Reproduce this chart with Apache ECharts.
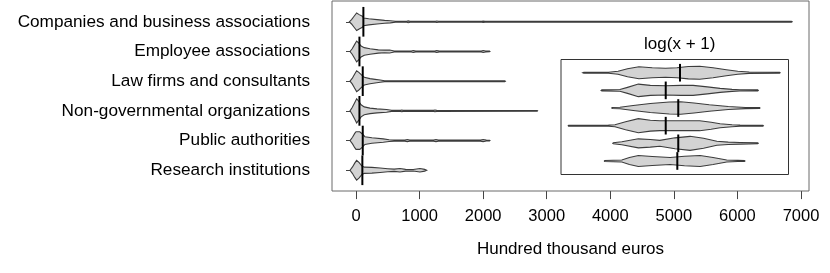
<!DOCTYPE html>
<html>
<head>
<meta charset="utf-8">
<script src="https://cdn.jsdelivr.net/npm/echarts@6/dist/echarts.min.js"></script>
<style>
html,body{margin:0;padding:0;background:#fff;}
#chart{width:830px;height:273px;}
</style>
</head>
<body>
<div id="chart"></div>
<script>
// ---------------- DATA ----------------
var categories = [
  'Companies and business associations',
  'Employee associations',
  'Law firms and consultants',
  'Non-governmental organizations',
  'Public authorities',
  'Research institutions'
];
var xTicks = [0, 1000, 2000, 3000, 4000, 5000, 6000, 7000];

// Bean outlines, main panel: [value (hundred thousand euros), relative half-width]
var beanCompanies = [[-105,0],[-70,2],[-30,5],[10,8],[50,6.5],[100,5],[120,3.5],[200,2.8],[330,2],[450,1.3],[540,1],[620,0.45],[800,0.45],[820,0.8],[850,0.4],[1250,0.4],[1270,0.7],[1300,0.4],[1980,0.4],[2000,0.6],[2030,0.35],[6850,0.35],[6860,0]];
var beanEmployee  = [[-94,0],[-60,2.5],[-25,6],[10,9.5],[45,7.5],[80,5],[130,3.5],[220,2.5],[350,1.5],[450,1.2],[530,1.4],[600,0.5],[870,0.5],[900,0.9],[940,0.4],[1240,0.4],[1270,0.9],[1310,0.4],[1970,0.4],[2000,0.9],[2040,0.45],[2100,0.3],[2107,0]];
var beanLaw       = [[-94,0],[-60,2.5],[-25,6],[10,9.5],[45,8],[90,5.5],[130,3.5],[220,2.3],[300,1.6],[380,1],[450,0.45],[2340,0.4],[2350,0]];
var beanNGO       = [[-94,0],[-60,3],[-25,7],[10,11],[45,8.5],[80,5.5],[130,3.6],[220,2.5],[330,1.8],[480,1.2],[560,0.5],[700,0.45],[720,0.8],[740,0.45],[1220,0.45],[1242,0.8],[1270,0.45],[2850,0.4],[2857,0]];
var beanPublic    = [[-94,0],[-55,3],[-20,6.5],[0,8],[60,8],[100,6],[140,3.5],[250,2.5],[430,1.5],[520,0.8],[600,0.5],[770,0.5],[807,1],[845,0.5],[1220,0.5],[1258,1],[1295,0.5],[1960,0.5],[2000,1],[2050,0.45],[2100,0.3],[2107,0]];
var beanResearch  = [[-94,0],[-55,3],[-20,6.5],[10,9],[50,7],[90,4],[130,2.8],[250,2.6],[380,2],[500,1.4],[600,1],[692,1.6],[780,0.8],[900,0.7],[1006,1.6],[1080,0.8],[1111,0]];
var mainBeans = [beanCompanies, beanEmployee, beanLaw, beanNGO, beanPublic, beanResearch];
var mainBeanLine = [116, 54, 106, 54, 106, 100];

// Bean outlines, inset panel: [log(x + 1), relative half-width]
var logCompanies = [[-0.36,0],[-0.3,0.5],[1.0,0.5],[1.5,1.5],[2.0,4],[2.6,6],[3.3,5],[4.0,4.5],[4.6,5],[5.2,6.2],[5.8,6.5],[6.5,5],[7.2,3],[7.8,1.5],[8.4,0.7],[10.0,0.5],[10.03,0]];
var logEmployee  = [[0.61,0],[0.65,0.5],[1.6,0.8],[2.0,3],[2.57,6.3],[3.2,5],[4.0,4.6],[4.8,5],[5.45,5],[6.2,3.5],[6.87,2],[7.5,1],[7.9,0.6],[8.85,0.5],[8.88,0]];
var logLaw       = [[1.17,0],[1.2,0.5],[1.6,0.8],[2.3,2.5],[3.2,4.5],[4.2,6],[4.8,6.3],[5.5,5],[6.3,3.2],[7.3,1.5],[8.2,0.6],[8.95,0.5],[8.97,0]];
var logNGO       = [[-1.12,0],[-1.1,0.5],[1.0,0.6],[1.34,1],[1.9,4],[2.57,7],[3.2,5.5],[3.7,5],[4.5,5],[5.8,5],[6.4,3.5],[6.87,2],[7.5,1],[7.92,0.6],[9.12,0.5],[9.15,0]];
var logPublic    = [[1.22,0],[1.25,0.5],[1.7,1.5],[2.57,4.5],[3.2,3.8],[3.7,3],[4.5,5.5],[5.29,7],[6.0,5],[6.7,2],[7.3,1.2],[7.92,0.8],[8.85,0.5],[8.88,0]];
var logResearch  = [[0.78,0],[0.8,0.5],[1.7,1],[2.1,3.5],[2.57,5.5],[3.3,4.5],[4.24,3.5],[5.0,4.8],[5.82,5.5],[6.5,3.5],[7.22,1],[7.8,0.6],[8.15,0.5],[8.18,0]];
var logBeans = [logCompanies, logEmployee, logLaw, logNGO, logPublic, logResearch];
var logBeanLine = [4.76, 4.01, 4.67, 4.01, 4.67, 4.62];

var xAxisTitle = 'Hundred thousand euros';
var insetTitle = 'log(x + 1)';

// ---------------- STYLE ----------------
var FONT = "'Liberation Sans', Arial, Helvetica, sans-serif";
var FILL = '#d3d3d3';
var OUTLINE = '#3c3c3c';

function beanSeries(beans, xi, yi, widthScale) {
  return {
    type: 'custom', xAxisIndex: xi, yAxisIndex: yi, silent: true, clip: false, z: 3,
    encode: { x: 0, y: 1 },
    data: beans.map(function (b, i) { return [b[0][0], i]; }),
    renderItem: function (params, api) {
      var idx = params.dataIndex;
      var prof = beans[idx];
      var band = api.size([0, 1])[1];
      var top = [], bot = [];
      prof.forEach(function (p) {
        var c = api.coord([p[0], idx]);
        var h = p[1] * widthScale * band;
        top.push([c[0], c[1] - h]);
        bot.push([c[0], c[1] + h]);
      });
      return {
        type: 'polygon',
        shape: { points: top.concat(bot.reverse()) },
        style: { fill: FILL, stroke: OUTLINE, lineWidth: 1.1 }
      };
    }
  };
}
function lineSeries(values, xi, yi) {
  return {
    type: 'custom', xAxisIndex: xi, yAxisIndex: yi, silent: true, clip: false, z: 4,
    encode: { x: 0, y: 1 },
    data: values.map(function (v, i) { return [v, i]; }),
    renderItem: function (params, api) {
      var idx = params.dataIndex;
      var band = api.size([0, 1])[1];
      var c = api.coord([api.value(0), idx]);
      return {
        type: 'line',
        shape: { x1: c[0], y1: c[1] - band * 0.5, x2: c[0], y2: c[1] + band * 0.5 },
        style: { stroke: '#000', lineWidth: 2 }
      };
    }
  };
}

var chart = echarts.init(document.getElementById('chart'), null, { renderer: 'canvas' });
var option = {
  animation: false,
  backgroundColor: '#fff',
  textStyle: { fontFamily: FONT },
  title: {
    text: insetTitle, left: 674.75, top: 31, textAlign: 'center',
    textStyle: { fontSize: 17, fontWeight: 'normal', color: '#000', fontFamily: FONT }
  },
  grid: [
    { left: 356, right: 29, top: 6.94, bottom: 87.9, outerBoundsMode: 'none', containLabel: false },
    { left: 332, right: 21, top: 1, bottom: 82, show: true, borderColor: '#6a6a6a', borderWidth: 1, backgroundColor: 'transparent', outerBoundsMode: 'none', containLabel: false },
    { left: 561, right: 41.5, top: 63.9, bottom: 103.2, outerBoundsMode: 'none', containLabel: false },
    { left: 561, right: 41.5, top: 59.5, bottom: 98.5, show: true, borderColor: '#333', borderWidth: 1, backgroundColor: 'transparent', outerBoundsMode: 'none', containLabel: false }
  ],
  xAxis: [
    {
      gridIndex: 0, type: 'value', min: xTicks[0], max: xTicks[xTicks.length - 1], interval: 1000,
      position: 'bottom', offset: 6,
      axisLine: { show: false },
      axisTick: { show: true, length: 8, lineStyle: { color: '#444', width: 1 } },
      axisLabel: { show: true, margin: 17, fontSize: 16.5, color: '#000', fontFamily: FONT,
        formatter: function (v) { return String(v); } },
      splitLine: { show: false }
    },
    {
      gridIndex: 1, type: 'value', min: 0, max: 1,
      axisLine: { show: false }, axisTick: { show: false }, axisLabel: { show: false }, splitLine: { show: false },
      name: xAxisTitle, nameLocation: 'middle', nameGap: 50,
      nameTextStyle: { fontSize: 17, color: '#000', fontFamily: FONT }
    },
    { gridIndex: 2, type: 'value', min: -1.5, max: 10.47, show: false },
    { gridIndex: 3, type: 'value', min: 0, max: 1, show: false }
  ],
  yAxis: [
    {
      gridIndex: 0, type: 'category', data: categories, inverse: true, offset: 24,
      axisLine: { show: false },
      axisTick: { show: true, alignWithLabel: true, length: 10, lineStyle: { color: '#444', width: 1 } },
      axisLabel: { show: true, margin: 22, fontSize: 17.2, color: '#000', fontFamily: FONT, interval: 0 },
      splitLine: { show: false }
    },
    { gridIndex: 1, type: 'value', min: 0, max: 1, show: false },
    { gridIndex: 2, type: 'category', data: categories, inverse: true, show: false },
    { gridIndex: 3, type: 'value', min: 0, max: 1, show: false }
  ],
  series: [
    beanSeries(mainBeans, 0, 0, 1.1 / 29.7),
    lineSeries(mainBeanLine, 0, 0),
    beanSeries(logBeans, 2, 2, 1 / 17.66),
    lineSeries(logBeanLine, 2, 2)
  ]
};
chart.setOption(option);
</script>
</body>
</html>
